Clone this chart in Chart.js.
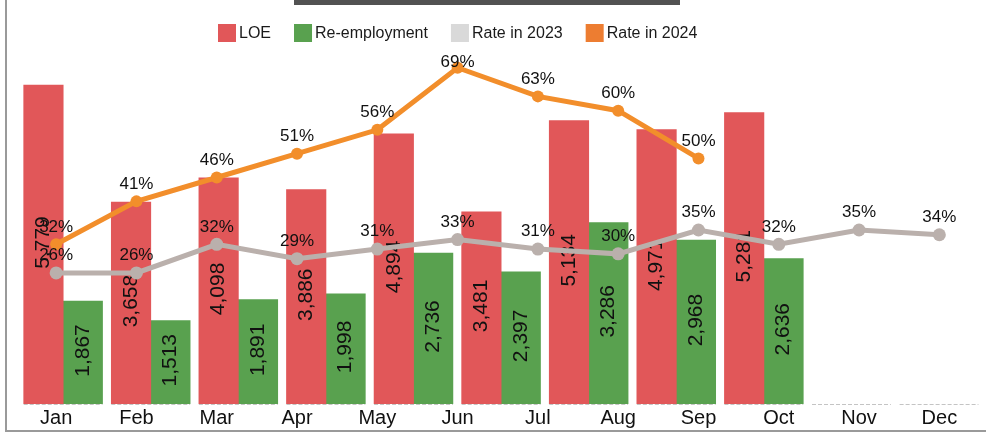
<!DOCTYPE html>
<html>
<head>
<meta charset="utf-8">
<script src="https://cdn.jsdelivr.net/npm/chart.js@4.4.1/dist/chart.umd.min.js"></script>
<style>
html,body{margin:0;padding:0;background:#fff;}
#wrap{position:relative;width:986px;height:439px;}
</style>
</head>
<body>
<div id="wrap"><canvas id="c" width="986" height="439"></canvas></div>
<script>
// ---- data ----
const months = ['Jan','Feb','Mar','Apr','May','Jun','Jul','Aug','Sep','Oct','Nov','Dec'];
const loe = [5779, 3658, 4098, 3886, 4894, 3481, 5134, 4971, 5281];
const reemployment = [1867, 1513, 1891, 1998, 2736, 2397, 3286, 2968, 2636];
const rate2023 = [26, 26, 32, 29, 31, 33, 31, 30, 35, 32, 35, 34];
const rate2024 = [32, 41, 46, 51, 56, 69, 63, 60, 50];
const barGroupCount = 11;
const legendNames = ['LOE', 'Re-employment', 'Rate in 2023', 'Rate in 2024'];

const FONT = '"Liberation Sans", Arial, sans-serif';

// bar group layout (in category units): group axis range, half-group shift
const groupMin = -0.538, groupSpan = 11, halfShift = 0.2246;

const barPoints = arr => arr.map((v, i) => ({x: i, y: v}));

const decoPlugin = {
  id: 'deco',
  beforeDatasetsDraw(chart) {
    const ctx = chart.ctx;
    const xb = chart.scales.xb, y = chart.scales.y;
    const y0 = Math.round(y.getPixelForValue(0)) + 0.5;
    const w = (xb.getPixelForValue(1) - xb.getPixelForValue(0)) * 0.9;
    ctx.save();
    ctx.strokeStyle = '#c4c4c4';
    ctx.lineWidth = 1;
    ctx.setLineDash([4, 2]);
    for (let i = 0; i < barGroupCount; i++) {
      const c = xb.getPixelForValue(i);
      ctx.beginPath();
      ctx.moveTo(c - w / 2, y0);
      ctx.lineTo(c + w / 2, y0);
      ctx.stroke();
    }
    ctx.restore();
  },
  afterDatasetDraw(chart, args) {
    const ds = chart.data.datasets[args.index];
    if (ds.type !== 'bar') return;
    const ctx = chart.ctx;
    ctx.save();
    ctx.font = '21px ' + FONT;
    ctx.fillStyle = '#111';
    ctx.textAlign = 'center';
    ctx.textBaseline = 'middle';
    args.meta.data.forEach((el, i) => {
      const v = ds.data[i].y;
      const cy = (el.y + el.base) / 2 - 2;
      ctx.save();
      ctx.translate(el.x, cy);
      ctx.rotate(-Math.PI / 2);
      ctx.fillText(v.toLocaleString('en-US'), 0, 0);
      ctx.restore();
    });
    ctx.restore();
  },
  afterDatasetsDraw(chart) {
    const ctx = chart.ctx;
    const top = chart.chartArea.top;
    ctx.save();
    ctx.font = '17px ' + FONT;
    ctx.fillStyle = '#111';
    ctx.textAlign = 'center';
    ctx.textBaseline = 'middle';
    chart.data.datasets.forEach((ds, di) => {
      if (ds.type !== 'line') return;
      const meta = chart.getDatasetMeta(di);
      meta.data.forEach((pt, i) => {
        const ly = Math.max(pt.y - 17.5, top + 10);
        ctx.fillText(ds.data[i] + '%', pt.x, ly);
      });
    });
    ctx.restore();
  },
  afterDraw(chart) {
    const ctx = chart.ctx;
    ctx.save();
    // title placeholder bar
    ctx.fillStyle = '#525252';
    ctx.fillRect(294, 0, 386, 5);
    // frame
    ctx.strokeStyle = '#9a9a9a';
    ctx.lineWidth = 2;
    ctx.beginPath();
    ctx.moveTo(6, 0);
    ctx.lineTo(6, 431);
    ctx.lineTo(986, 431);
    ctx.stroke();
    // legend
    ctx.font = '16px ' + FONT;
    ctx.textBaseline = 'middle';
    ctx.textAlign = 'left';
    let x = 218;
    const cy = 33;
    chart.data.datasets.forEach(ds => {
      ctx.fillStyle = ds.legendColor;
      ctx.fillRect(x, cy - 9, 18, 18);
      x += 18 + 3;
      ctx.fillStyle = '#1a1a1a';
      ctx.fillText(ds.label, x, cy + 1);
      x += ctx.measureText(ds.label).width + 23;
    });
    ctx.restore();
  }
};

const hiddenLinear = (min) => ({type: 'linear', display: false, offset: false, bounds: 'data',
  min: min, max: min + groupSpan, grid: {offset: false}});

new Chart(document.getElementById('c'), {
  type: 'bar',
  data: {
    labels: months,
    datasets: [
      {type: 'bar', label: legendNames[0], data: barPoints(loe), xAxisID: 'xl', yAxisID: 'y',
       backgroundColor: '#E15759', legendColor: '#E15759', borderWidth: 0,
       grouped: false, barThickness: 39.5, order: 1},
      {type: 'bar', label: legendNames[1], data: barPoints(reemployment), xAxisID: 'xg', yAxisID: 'y',
       backgroundColor: '#59A14F', legendColor: '#59A14F', borderWidth: 0,
       grouped: false, barThickness: 39.5, order: 1},
      {type: 'line', label: legendNames[2], data: rate2023, xAxisID: 'x', yAxisID: 'y2',
       borderColor: '#BAB0AC', backgroundColor: '#BAB0AC', legendColor: '#D9D9D9',
       borderWidth: 5, pointRadius: 6.5, pointBorderWidth: 0, pointBackgroundColor: '#BAB0AC',
       tension: 0, order: 0},
      {type: 'line', label: legendNames[3], data: rate2024, xAxisID: 'x', yAxisID: 'y2',
       borderColor: '#F28E2B', backgroundColor: '#F28E2B', legendColor: '#ED7D31',
       borderWidth: 5, pointRadius: 6, pointBorderWidth: 0, pointBackgroundColor: '#F28E2B',
       tension: 0, order: 0}
    ]
  },
  options: {
    responsive: false,
    animation: false,
    events: [],
    layout: {padding: {top: 52, left: 16, right: 3, bottom: 7}},
    plugins: {legend: {display: false}, title: {display: false}, tooltip: {enabled: false}},
    scales: {
      x: {type: 'category', offset: true, position: 'bottom',
          grid: {display: false, drawTicks: false}, border: {display: false},
          ticks: {color: '#111', font: {family: FONT, size: 20}, padding: 2, maxRotation: 0, autoSkip: false}},
      xb: hiddenLinear(groupMin),
      xl: hiddenLinear(groupMin + halfShift),
      xg: hiddenLinear(groupMin - halfShift),
      y: {type: 'linear', display: false, min: 0, max: 6378},
      y2: {type: 'linear', display: false, min: -1.46, max: 72.3}
    }
  },
  plugins: [decoPlugin]
});
</script>
</body>
</html>
